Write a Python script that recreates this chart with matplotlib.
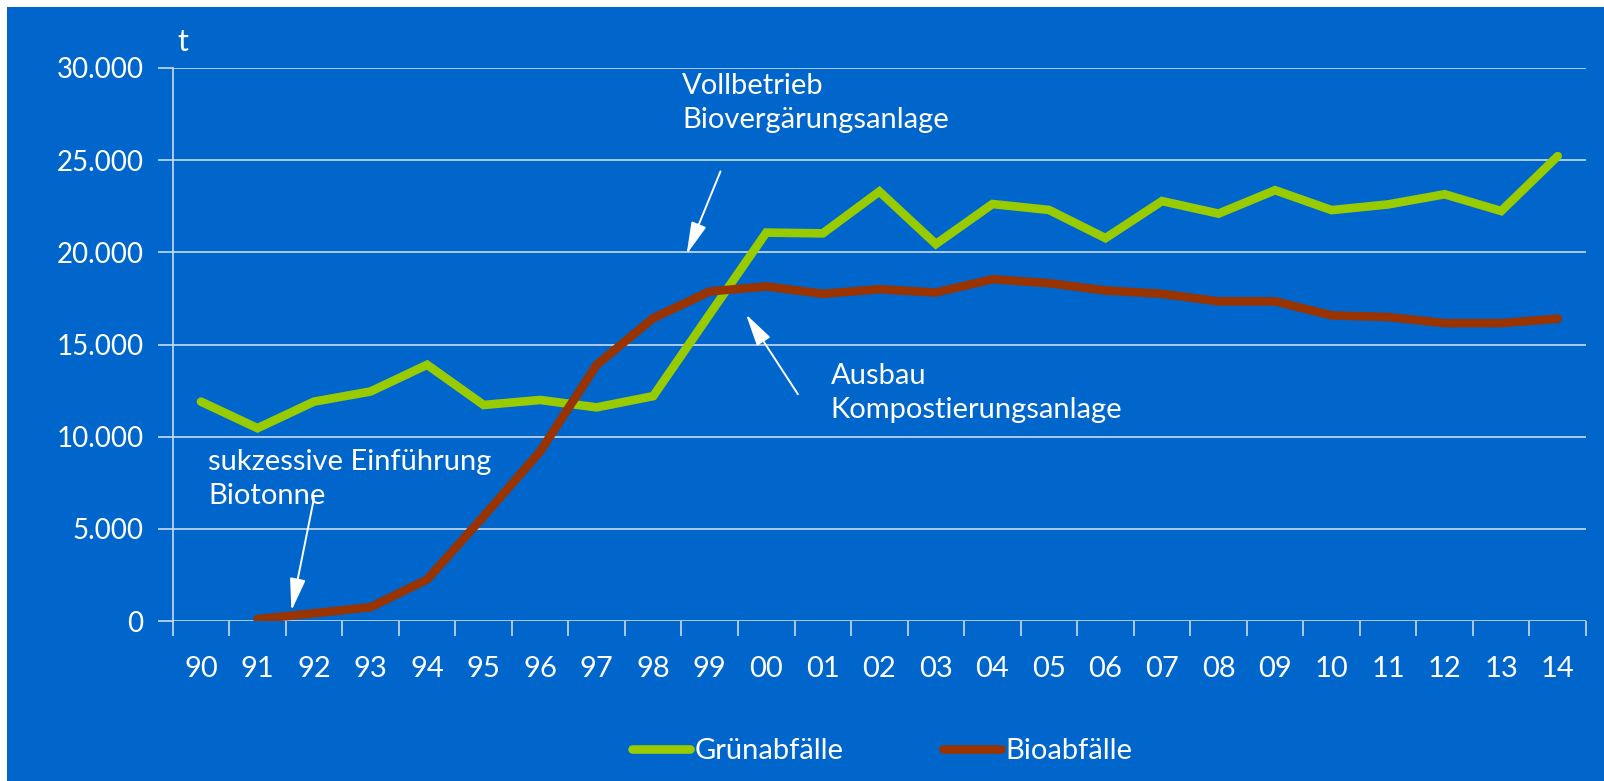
import numpy as np
import matplotlib.pyplot as plt
from matplotlib.patches import Rectangle

# data
years = ['90', '91', '92', '93', '94', '95', '96', '97', '98', '99', '00', '01', '02',
         '03', '04', '05', '06', '07', '08', '09', '10', '11', '12', '13', '14']
gruen = [11900, 10460, 11900, 12450, 13900, 11720, 11990, 11590, 12200, 16650, 21070, 21030,
         23300, 20450, 22620, 22300, 20770, 22780, 22100, 23370, 22290, 22600, 23150, 22240, 25220]
bio = [np.nan, 100, 420, 750, 2250, 5680, 9200, 13900, 16430, 17880, 18150, 17750, 18000,
       17820, 18540, 18330, 17930, 17750, 17340, 17340, 16580, 16490, 16160, 16160, 16400]
yticks = [0, 5000, 10000, 15000, 20000, 25000, 30000]
ylabels = ['0', '5.000', '10.000', '15.000', '20.000', '25.000', '30.000']

blue = '#0066CC'
green = '#99CC00'
red = '#993300'
grid = '#C9DCF2'

plt.rcParams['font.family'] = ['Lato', 'DejaVu Sans']

fig = plt.figure(figsize=(16.04, 7.81), dpi=100)
fig.patch.set_facecolor('white')
fig.add_artist(Rectangle((7/1604, 0), 1, 1 - 7/781, transform=fig.transFigure,
                         facecolor=blue, edgecolor='none', zorder=0))

ax = fig.add_axes([172.7/1604, 1 - 621/781, (1586 - 172.7)/1604, (621 - 68)/781])
ax.set_facecolor('none')

x = np.arange(len(years))
ax.plot(x, gruen, color=green, lw=6.2, solid_capstyle='round', solid_joinstyle='miter',
        label='Grünabfälle', zorder=3)
ax.plot(x, bio, color=red, lw=6.2, solid_capstyle='round', solid_joinstyle='miter',
        label='Bioabfälle', zorder=4)

ax.set_xlim(-0.5, len(years) - 0.5)
ax.set_ylim(0, 30000)

# y axis
ax.set_yticks(yticks)
ax.set_yticklabels(ylabels, color='white', fontsize=20)
ax.yaxis.grid(True, color=grid, lw=1.2)
ax.set_axisbelow(True)
ax.tick_params(axis='y', length=11, width=1.2, color=grid, pad=10)

# x axis: labels at centres, ticks on boundaries
ax.set_xticks(x)
ax.set_xticklabels(years, color='white', fontsize=21)
ax.tick_params(axis='x', which='major', length=0, pad=25)
ax.set_xticks(np.arange(-0.5, len(years)), minor=True)
ax.tick_params(axis='x', which='minor', length=11, width=1.2, color=grid, direction='out')

for s in ['top', 'right', 'bottom']:
    ax.spines[s].set_visible(False)
ax.spines['left'].set_color(grid)
ax.spines['left'].set_linewidth(1.2)

ax.text(0.003, 1.047, 't', transform=ax.transAxes, color='white', fontsize=22,
        ha='left', va='center')

# annotations
arrow = dict(arrowstyle='-|>,head_length=0.9,head_width=0.22', color='white', lw=1.4,
             mutation_scale=22, shrinkA=0, shrinkB=0)
ax.annotate('', xy=(8.59, 19890), xytext=(9.19, 24390), arrowprops=arrow, zorder=5)
ax.text(8.51, 28100, 'Vollbetrieb\nBiovergärungsanlage', color='white', fontsize=21,
        ha='left', va='center', linespacing=1.4)

ax.annotate('', xy=(9.64, 16640), xytext=(10.56, 12300), arrowprops=arrow, zorder=5)
ax.text(11.14, 12380, 'Ausbau\nKompostierungsanlage', color='white', fontsize=21,
        ha='left', va='center', linespacing=1.4)

ax.annotate('', xy=(1.60, 560), xytext=(2.0, 6670), arrowprops=arrow, zorder=5)
ax.text(0.13, 7700, 'sukzessive Einführung\nBiotonne', color='white', fontsize=21,
        ha='left', va='center', linespacing=1.4)

leg = fig.legend(loc='center', bbox_to_anchor=(882/1604, 1 - 751/781), ncol=2,
                 frameon=False, fontsize=21, handlelength=2.0, handletextpad=0.15,
                 columnspacing=3.4)
for t in leg.get_texts():
    t.set_color('white')

fig.savefig('out.png', dpi=100, facecolor=fig.get_facecolor())
